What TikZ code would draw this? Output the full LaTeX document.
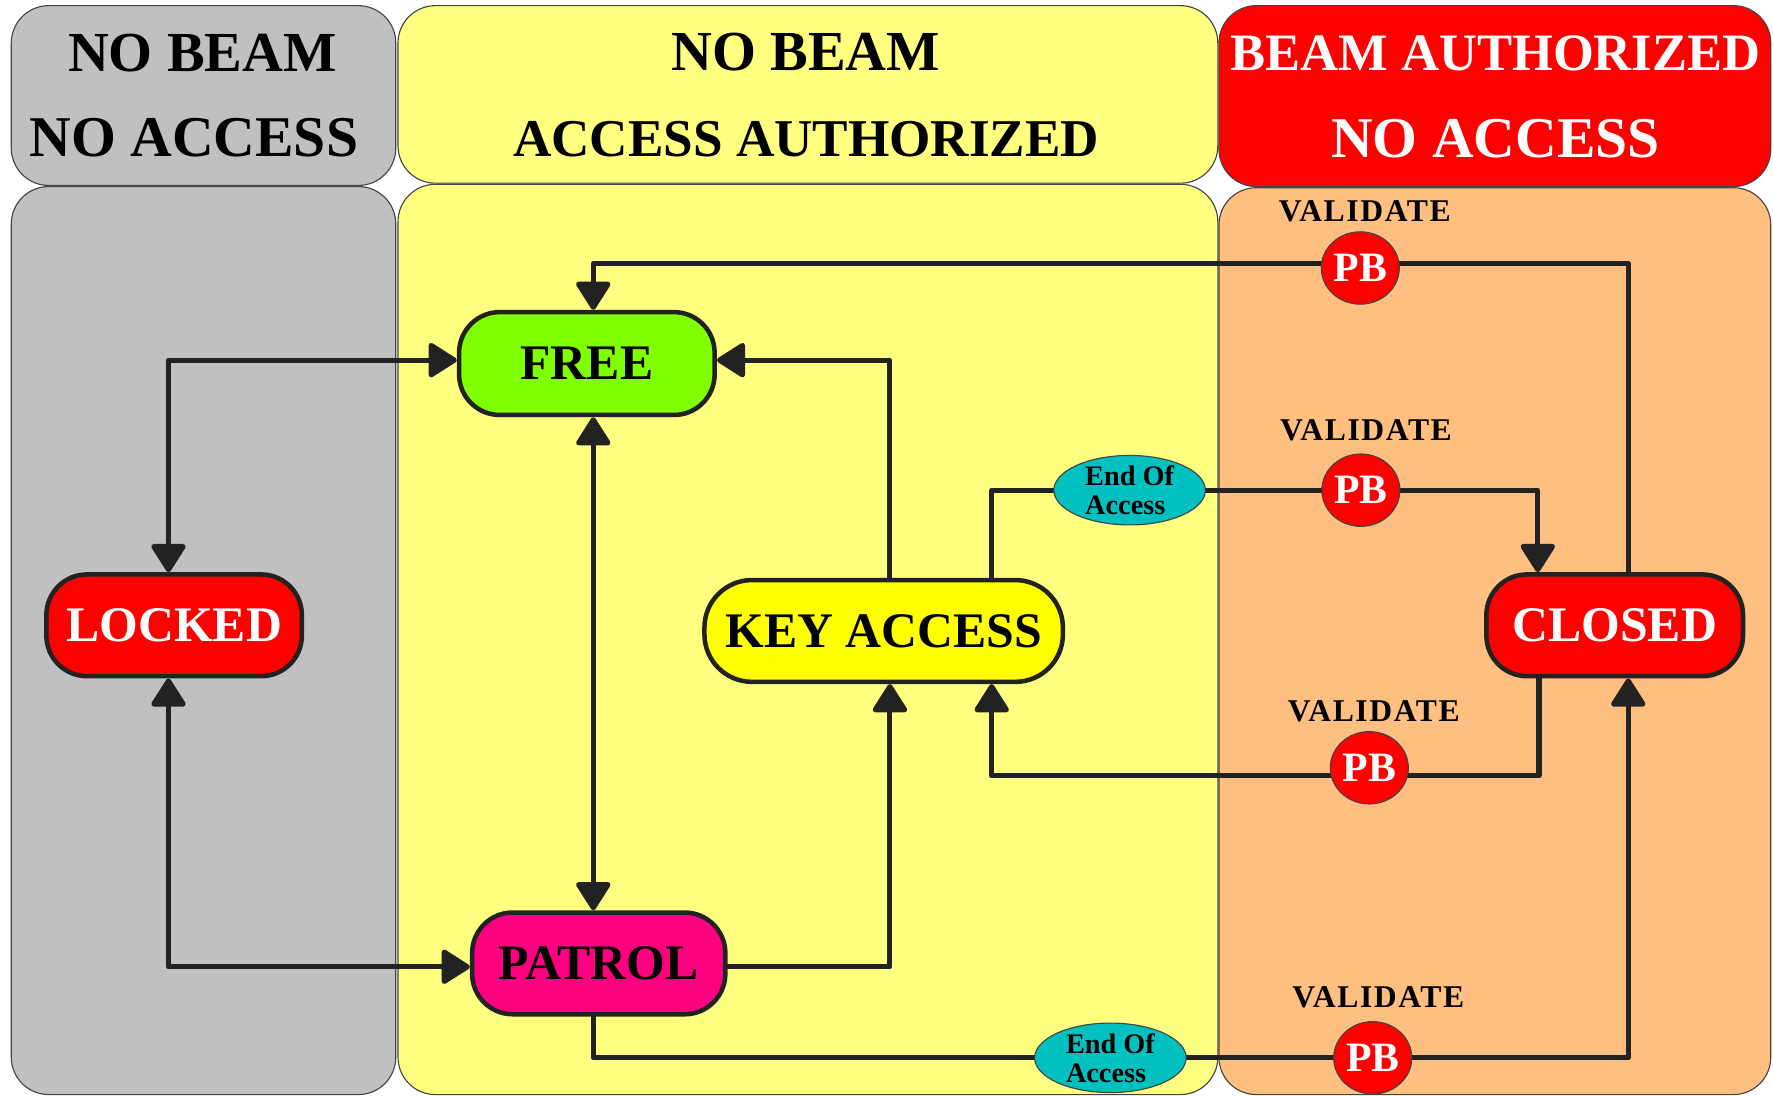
\documentclass[tikz,border=0pt]{standalone}
\usepackage{fontspec}
\setmainfont{Liberation Serif}
\usetikzlibrary{arrows.meta,shapes.geometric,calc}
\pgfdeclarelayer{panels}
\pgfdeclarelayer{lines}
\pgfsetlayers{panels,lines,main}
\definecolor{pgray}{HTML}{C0C0C0}
\definecolor{pyellow}{HTML}{FFFF80}
\definecolor{porange}{HTML}{FFBF80}
\definecolor{pred}{HTML}{FF0000}
\definecolor{sgreen}{HTML}{80FF00}
\definecolor{syellow}{HTML}{FFFF00}
\definecolor{smagenta}{HTML}{FF0080}
\definecolor{scyan}{HTML}{00C0C0}
\definecolor{ink}{HTML}{222222}
\definecolor{edgec}{HTML}{444444}
\tikzset{
  panel/.style={draw=edgec, line width=1pt, rounded corners=33pt},
  hdrtext/.style={anchor=base, inner sep=0pt, font=\bfseries},
  state/.style={draw=ink, line width=4pt, rounded corners=36pt, minimum width=226pt,
    minimum height=90pt, inner sep=0pt, font=\fontsize{44}{48}\selectfont\bfseries},
  pbnode/.style={ellipse, draw=edgec, line width=1pt, fill=pred, text=white,
    minimum width=69pt, minimum height=64pt, inner sep=0pt,
    font=\fontsize{37}{37}\selectfont\bfseries},
  eoanode/.style={ellipse, draw=edgec, line width=1pt, fill=scyan,
    minimum width=134pt, minimum height=55pt, inner sep=0pt, align=left,
    font=\fontsize{25}{25.6}\selectfont\bfseries},
  validate/.style={anchor=base, inner sep=0pt,
    font=\fontsize{28}{28}\selectfont\bfseries\addfontfeatures{LetterSpace=5}},
  conn/.style={draw=ink, line width=4.5pt, line cap=round, line join=round},
  sgl/.style={-{Triangle[length=27pt,width=33pt,round]}},
  dbl/.style={{Triangle[length=27pt,width=33pt,round]}-{Triangle[length=27pt,width=33pt,round]}}
}
\begin{document}
\begin{tikzpicture}[x=1pt,y=-1pt]
\useasboundingbox (0,0) rectangle (1568,969);
% panels
\begin{pgfonlayer}{panels}
\draw[panel, fill=pgray] (10,5) rectangle (350,164);
\draw[panel, fill=pyellow] (352,5) rectangle (1077,162);
\draw[panel, fill=pred] (1078,5) rectangle (1566,165);
\draw[panel, fill=pgray] (10,165) rectangle (350,968);
\draw[panel, fill=pyellow] (352,163) rectangle (1077,968);
\draw[panel, fill=porange] (1078,166) rectangle (1566,968);
\end{pgfonlayer}
% header texts
\node[hdrtext, font=\fontsize{50}{50}\selectfont\bfseries] (g1) at (179,63) {NO BEAM};
\node[hdrtext, font=\fontsize{51}{51}\selectfont\bfseries] (g2) at (171.5,138) {NO ACCESS};
\node[hdrtext, font=\fontsize{50}{50}\selectfont\bfseries] (y1) at (712.5,62) {NO BEAM};
\node[hdrtext, font=\fontsize{47}{47}\selectfont\bfseries] (y2) at (713,138) {ACCESS AUTHORIZED};
\node[hdrtext, text=white, font=\fontsize{46.5}{46.5}\selectfont\bfseries] (r1) at (1322.5,62) {BEAM AUTHORIZED};
\node[hdrtext, text=white, font=\fontsize{51}{51}\selectfont\bfseries] (r2) at (1322.5,139) {NO ACCESS};
% states
\node[state, fill=sgreen, minimum width=226pt, minimum height=91pt] (free) at (519,321.5) {FREE};
\node[state, fill=pred, text=white] (locked) at (154,553) {LOCKED};
\node[state, fill=syellow, minimum width=317pt, rounded corners=42pt] (key) at (781.5,558) {KEY ACCESS};
\node[state, fill=smagenta, minimum width=224pt] (patrol) at (529.5,852) {PATROL};
\node[state, fill=pred, text=white, minimum width=227pt] (closed) at (1428,553) {CLOSED};
% validate / pb / end of access
\node[pbnode] (pb1) at (1203,237) {PB};
\node[pbnode] (pb2) at (1203.5,433.5) {PB};
\node[pbnode] (pb3) at (1211,679) {PB};
\node[pbnode] (pb4) at (1214,935.5) {PB};
\node[validate] (v1) at (1207,196) {VALIDATE};
\node[validate] (v2) at (1208,390) {VALIDATE};
\node[validate] (v3) at (1215,638) {VALIDATE};
\node[validate] (v4) at (1219,891) {VALIDATE};
\node[eoanode] (eoa1) at (999,433.5) {End Of\\Access};
\node[eoanode] (eoa2) at (982,935.5) {End Of\\Access};
% connectors
\begin{pgfonlayer}{lines}
\draw[conn, dbl] ([xshift=-5pt]locked.north) |- ([yshift=3pt]free.west);
\draw[conn, dbl] ([xshift=-5pt]locked.south) |- ([yshift=-3pt]patrol.west);
\draw[conn, dbl] ([xshift=5.7pt]free.south) -- ([xshift=-4.8pt]patrol.north);
\draw[conn, sgl] ([xshift=5.5pt]key.north) |- ([yshift=3pt]free.east);
\draw[conn, sgl] ([yshift=-3pt]patrol.east) -| ([xshift=5.5pt]key.south);
\draw[conn, sgl] ([xshift=95.5pt]key.north) |- (eoa1.center) -- (pb2.center) -| ([xshift=-68pt]closed.north);
\draw[conn, sgl] ([xshift=12pt]closed.north) |- ([yshift=4pt]pb1.center) -| ([xshift=5.7pt]free.north);
\draw[conn, sgl] ([xshift=-67pt]closed.south) |- ([yshift=-7pt]pb3.center) -| ([xshift=95.5pt]key.south);
\draw[conn, sgl] ([xshift=-5pt]patrol.south) |- (eoa2.center) -- (pb4.center) -| ([xshift=12pt]closed.south);
\end{pgfonlayer}
\end{tikzpicture}
\end{document}
